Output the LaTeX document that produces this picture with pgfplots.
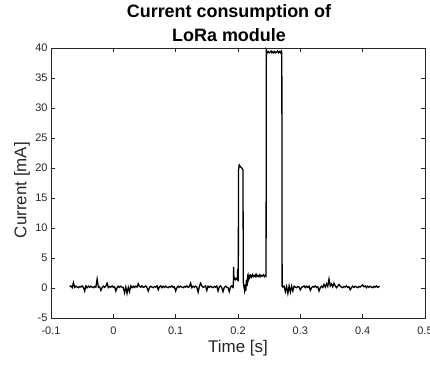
\documentclass[border=0pt]{standalone}
\usepackage{fontspec}
\setmainfont{Liberation Sans}
\usepackage{pgfplots}
\pgfplotsset{compat=1.18}
\definecolor{mgray}{HTML}{262626}
\begin{document}
\begin{tikzpicture}
\path[use as bounding box] (-51bp,-47bp) rectangle (379bp,318bp);
\begin{axis}[
  scale only axis,
  width=374bp, height=270bp,
  xmin=-0.1, xmax=0.5, ymin=-5, ymax=40,
  xtick={-0.1,0,0.1,0.2,0.3,0.4,0.5},
  xticklabels={-0.1,0,0.1,0.2,0.3,0.4,0.5},
  ytick={-5,0,5,10,15,20,25,30,35,40},
  yticklabels={-5,0,5,10,15,20,25,30,35,40},
  tick align=inside,
  major tick length=3.7bp,
  axis line style={mgray, line width=0.5bp},
  every tick/.style={mgray, line width=0.5bp},
  tick label style={font=\fontsize{11}{13}\selectfont, text=mgray},
  xticklabel style={yshift=-5bp},
  /pgf/number format/assume math mode=true,
  title={Current consumption of\\LoRa module},
  title style={font=\fontsize{18}{24}\selectfont\bfseries, align=center, at={(axis description cs:0.5,1)}, anchor=south, inner sep=0pt, yshift=0bp, xshift=-9bp},
  xlabel={Time [s]},
  xlabel style={font=\fontsize{17}{20}\selectfont, text=mgray, at={(axis description cs:0.5,-0.1296)}, anchor=base, inner sep=0pt},
  ylabel={Current [mA]},
  ylabel style={font=\fontsize{17}{20}\selectfont, text=mgray, at={(axis description cs:-0.0775,0.474)}, anchor=center, inner sep=0pt},
]
\addplot[black, line width=1.3bp] coordinates {
(-0.070,0.2) (-0.068,0.35) (-0.066,0.05) (-0.064,0.9) (-0.062,0.1) (-0.060,0.3) (-0.058,0.15) (-0.056,0.05) (-0.054,0.25) (-0.052,0.15)
(-0.050,0.35) (-0.048,0.1) (-0.046,-0.5) (-0.044,0.35) (-0.042,0.05) (-0.040,0.3) (-0.038,0.1) (-0.036,0.3) (-0.034,0.15) (-0.032,0.05)
(-0.030,0.25) (-0.028,0.15) (-0.026,1.5) (-0.024,0.1) (-0.022,0.2) (-0.020,-0.4) (-0.018,0.05) (-0.016,0.3) (-0.014,0.1) (-0.012,0.3)
(-0.010,0.8) (-0.008,0.05) (-0.006,0.25) (-0.004,0.15) (-0.002,0.35) (0.000,0.1) (0.002,0.2) (0.004,-0.5) (0.006,0.05) (0.008,0.3)
(0.010,0.1) (0.012,0.3) (0.014,0.15) (0.016,0.05) (0.018,-0.8) (0.020,0.15) (0.022,-0.9) (0.024,0.1) (0.026,-0.6) (0.028,0.35)
(0.030,0.05) (0.032,0.3) (0.034,0.1) (0.036,0.3) (0.038,0.15) (0.040,0.7) (0.042,0.25) (0.044,0.15) (0.046,0.35) (0.048,0.1)
(0.050,0.2) (0.052,0.35) (0.054,0.05) (0.056,-0.5) (0.058,0.1) (0.060,0.3) (0.062,0.15) (0.064,0.05) (0.066,0.25) (0.068,0.15)
(0.070,0.35) (0.072,-0.3) (0.074,0.2) (0.076,0.35) (0.078,0.05) (0.080,0.3) (0.082,0.1) (0.084,0.3) (0.086,0.15) (0.088,0.05)
(0.090,0.25) (0.092,0.15) (0.094,0.35) (0.096,0.1) (0.098,0.2) (0.100,-0.5) (0.102,0.05) (0.104,0.3) (0.106,0.1) (0.108,0.3)
(0.110,0.15) (0.112,0.05) (0.114,0.25) (0.116,0.15) (0.118,0.35) (0.120,0.1) (0.122,0.2) (0.124,0.8) (0.126,0.05) (0.128,0.3)
(0.130,0.1) (0.132,0.3) (0.134,0.15) (0.136,-0.7) (0.138,0.25) (0.140,0.8) (0.142,0.35) (0.144,0.1) (0.146,0.2) (0.148,0.35)
(0.150,-0.4) (0.152,0.3) (0.154,0.1) (0.156,0.3) (0.158,0.15) (0.160,0.05) (0.162,0.25) (0.164,0.15) (0.166,0.35) (0.168,-0.5)
(0.170,0.2) (0.172,0.35) (0.174,0.05) (0.176,-0.6) (0.178,0.1) (0.180,0.3) (0.182,0.15) (0.184,0.05) (0.186,-0.6) (0.188,0.15)
(0.190,0.35) (0.192,0.1)
(0.1925,0.3) (0.1930,3.5) (0.1935,1.4) (0.1950,1.6) (0.1960,1.4) (0.1975,1.6) (0.1990,1.4) (0.1995,3.2) (0.2000,1.5) (0.2005,1.4)
(0.2008,19.6) (0.2020,20.5) (0.2040,20.2) (0.2060,20.0) (0.2080,19.7) (0.2085,1.0) (0.2095,0.2) (0.2105,-0.4) (0.2115,0.6) (0.2125,-0.5)
(0.2135,1.4) (0.2145,0.3) (0.2155,1.8) (0.2165,1.4) (0.2175,2.1) (0.2185,1.7) (0.2200,2.1) (0.2215,1.8) (0.2230,2.2) (0.2245,1.9)
(0.2260,2.1) (0.2275,1.9) (0.2290,2.3) (0.2305,1.9) (0.2320,2.1) (0.2335,1.9) (0.2350,2.2) (0.2365,1.9) (0.2380,2.1) (0.2395,2.0)
(0.2410,2.2) (0.2425,1.9) (0.2440,2.1) (0.2450,2.0)
(0.2455,39.6) (0.2470,39.2) (0.2485,39.4) (0.2500,39.2) (0.2515,39.3) (0.2530,39.5) (0.2545,39.2) (0.2560,39.4) (0.2575,39.2) (0.2590,39.4)
(0.2605,39.2) (0.2620,39.3) (0.2635,39.5) (0.2650,39.2) (0.2665,39.4) (0.2680,39.2) (0.2695,39.5) (0.2703,39.3)
(0.2708,0.3) (0.272,0.15)
(0.274,0.3) (0.276,-0.6) (0.278,0.25) (0.280,-0.9) (0.282,0.35) (0.284,-0.7) (0.286,0.3) (0.288,-0.5) (0.290,0.3) (0.292,0.15)
(0.294,0.05) (0.296,0.25) (0.298,0.15) (0.300,-0.3) (0.302,0.1) (0.304,0.2) (0.306,0.35) (0.308,0.05) (0.310,0.3) (0.312,0.1)
(0.314,0.3) (0.316,-0.4) (0.318,0.05) (0.320,0.25) (0.322,0.15) (0.324,0.35) (0.326,0.1) (0.328,0.2) (0.330,-0.5) (0.332,0.05)
(0.334,0.3) (0.336,0.1) (0.338,0.6) (0.340,0.15) (0.342,0.7) (0.344,0.25) (0.346,1.5) (0.348,0.35) (0.350,0.7) (0.352,0.2)
(0.354,0.8) (0.356,0.35) (0.358,0.05) (0.360,0.3) (0.362,0.6) (0.364,0.3) (0.366,0.15) (0.368,0.05) (0.370,0.25) (0.372,0.15)
(0.374,0.35) (0.376,0.1) (0.378,0.2) (0.380,-0.3) (0.382,0.05) (0.384,0.3) (0.386,0.1) (0.388,0.3) (0.390,0.15) (0.392,0.05)
(0.394,0.25) (0.396,0.15) (0.398,0.35) (0.400,0.5) (0.402,0.2) (0.404,0.35) (0.406,0.05) (0.408,0.3) (0.410,0.1) (0.412,0.3)
(0.414,0.15) (0.416,0.05) (0.418,0.25) (0.420,0.15) (0.422,0.35) (0.424,0.1) (0.426,0.2) (0.427,0.3)
};
\end{axis}
\end{tikzpicture}
\end{document}
